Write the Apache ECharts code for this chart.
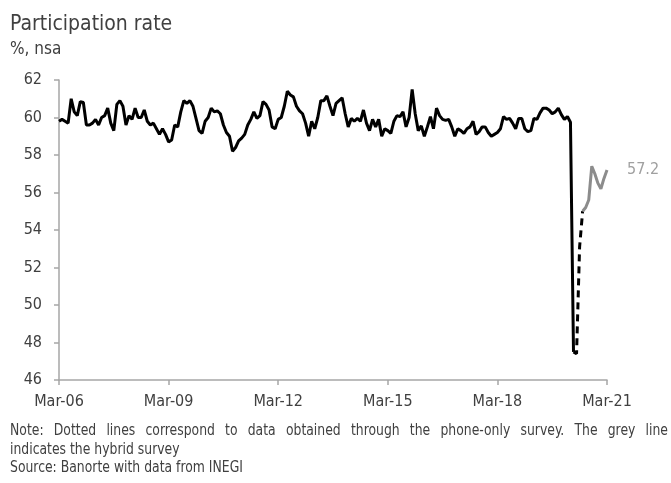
<!DOCTYPE html>
<head>
    <meta charset="utf-8">
    <title>Participation rate</title>
    <style>
        html, body { margin: 0; padding: 0; background: #fff; }
        #main { width: 671px; height: 483px; }
    </style>
</head>
<body>
<div id="main"></div>
<script src="https://cdn.jsdelivr.net/npm/echarts@6/dist/echarts.min.js"></script>
<script type="text/javascript">
// monthly, Mar-06 .. Apr-20 (traditional survey)
var participation = [
    59.8, 59.9, 59.8, 59.7, 61.0, 60.3, 60.1, 60.85, 60.8, 59.6, 59.6, 59.7,
    59.9, 59.6, 60.0, 60.1, 60.5, 59.7, 59.3, 60.7, 60.9, 60.6, 59.6, 60.1,
    59.9, 60.5, 60.0, 60.0, 60.4, 59.8, 59.6, 59.7, 59.4, 59.1, 59.4, 59.1,
    58.7, 58.8, 59.6, 59.5, 60.3, 60.9, 60.75, 60.9, 60.6, 59.95, 59.3, 59.15,
    59.8, 60.0, 60.5, 60.3, 60.35, 60.2, 59.6, 59.2, 59.0, 58.2, 58.4, 58.75,
    58.9, 59.1, 59.6, 59.9, 60.3, 59.95, 60.1, 60.85, 60.7, 60.4, 59.5, 59.4,
    59.9, 60.0, 60.6, 61.4, 61.2, 61.1, 60.6, 60.35, 60.2, 59.7, 59.0, 59.8,
    59.4, 60.0, 60.9, 60.9, 61.15, 60.6, 60.1, 60.75, 60.9, 61.05, 60.2, 59.5,
    59.95, 59.8, 59.95, 59.8, 60.4, 59.7, 59.3, 59.9, 59.5, 59.9, 59.0, 59.4,
    59.3, 59.15, 59.8, 60.1, 60.05, 60.3, 59.5, 60.0, 61.5, 60.2, 59.3, 59.55,
    59.0, 59.5, 60.05, 59.4, 60.5, 60.1, 59.9, 59.85, 59.9, 59.5, 59.0, 59.4,
    59.3, 59.15, 59.4, 59.5, 59.8, 59.1, 59.25, 59.5, 59.5, 59.2, 59.0, 59.1,
    59.2, 59.4, 60.05, 59.9, 59.95, 59.7, 59.4, 59.95, 59.95, 59.4, 59.25, 59.3,
    59.95, 59.9, 60.25, 60.5, 60.5, 60.4, 60.2, 60.3, 60.5, 60.15, 59.9, 60.05,
    59.75, 47.5
];
// Apr-20 .. Jul-20 (phone-only survey)
var phoneSurvey = [47.5, 47.4, 53.1, 55.0];
// Jul-20 .. Mar-21 (hybrid survey)
var hybridSurvey = [55.0, 55.2, 55.6, 57.4, 57.0, 56.5, 56.2, 56.75, 57.2];

var tickLabels = ['Mar-06', 'Mar-09', 'Mar-12', 'Mar-15', 'Mar-18', 'Mar-21'];
var yTicks = [46, 48, 50, 52, 54, 56, 58, 60, 62];

var FONT = "'Liberation Sans Narrow', 'DejaVu Sans Condensed', 'Roboto', sans-serif";

// month labels Mar-06 .. Mar-21
var monthNames = ['Jan','Feb','Mar','Apr','May','Jun','Jul','Aug','Sep','Oct','Nov','Dec'];
var months = [];
for (var i = 0; i <= 180; i++) {
    var m = (2 + i) % 12;
    var y = 2006 + Math.floor((2 + i) / 12);
    months.push(monthNames[m] + '-' + String(y).slice(2));
}

var n = months.length;
var phoneStart = participation.length - 1;
var hybridStart = phoneStart + phoneSurvey.length - 1;
function pad(arr, start) {
    var out = [];
    for (var i = 0; i < n; i++) {
        out.push(i >= start && i < start + arr.length ? arr[i - start] : null);
    }
    return out;
}

var textColor = '#404040';
var NOTE_SIZE = 15, NOTE_SX = 0.92;

// squeezed text, the original uses a narrow face
function txt(s, x, y, size, sx) {
    return { type: 'text', x: x, y: y, scaleX: sx || 1,
        style: { text: s, fill: textColor, font: size + 'px ' + FONT, verticalAlign: 'top' } };
}

// justified first note line, like the original
var ctx = document.createElement('canvas').getContext('2d');
function justify(text, x0, x1, y) {
    ctx.font = NOTE_SIZE + 'px ' + FONT;
    var words = text.split(' ');
    var widths = words.map(function (w) { return ctx.measureText(w).width * NOTE_SX; });
    var total = widths.reduce(function (a, b) { return a + b; }, 0);
    var gap = (x1 - x0 - total) / (words.length - 1);
    var x = x0, els = [];
    words.forEach(function (w, i) {
        els.push(txt(w, x, y, NOTE_SIZE, NOTE_SX));
        x += widths[i] + gap;
    });
    return els;
}

var myChart = echarts.init(document.getElementById('main'));

var graphics = [
    txt('Participation rate', 10, 14, 21),
    txt('%, nsa', 10, 41, 17),
    txt('indicates the hybrid survey', 10, 443, NOTE_SIZE, NOTE_SX),
    txt('Source: Banorte with data from INEGI', 10, 461, NOTE_SIZE, NOTE_SX)
].concat(justify('Note: Dotted lines correspond to data obtained through the phone-only survey. The grey line', 10, 668, 424));

var option = {
    animation: false,
    grid: { left: 59, right: 64, top: 80, bottom: 103, containLabel: false },
    graphic: graphics,
    xAxis: {
        type: 'category',
        data: months,
        boundaryGap: false,
        axisLine: { lineStyle: { color: '#a6a6a6', width: 1.5 } },
        axisTick: {
            length: 5,
            lineStyle: { color: '#a6a6a6', width: 1.5 },
            interval: function (idx, val) { return tickLabels.indexOf(val) >= 0; }
        },
        axisLabel: {
            interval: function (idx, val) { return tickLabels.indexOf(val) >= 0; },
            color: textColor, fontSize: 16, fontFamily: FONT, margin: 14
        },
        splitLine: { show: false }
    },
    yAxis: {
        type: 'value',
        min: yTicks[0],
        max: yTicks[yTicks.length - 1],
        interval: 2,
        axisLine: { show: true, lineStyle: { color: '#a6a6a6', width: 1.5 } },
        axisTick: { show: true, length: 5, lineStyle: { color: '#a6a6a6', width: 1.5 } },
        axisLabel: { color: textColor, fontSize: 16, fontFamily: FONT, margin: 17 },
        splitLine: { show: false }
    },
    series: [
        {
            name: 'Traditional', type: 'line', data: pad(participation, 0),
            showSymbol: false, symbol: 'none',
            lineStyle: { color: '#000', width: 3 }
        },
        {
            name: 'Phone-only', type: 'line', data: pad(phoneSurvey, phoneStart),
            showSymbol: false, symbol: 'none',
            lineStyle: { color: '#000', width: 3, type: [7, 5] }
        },
        {
            name: 'Hybrid', type: 'line', data: pad(hybridSurvey, hybridStart),
            showSymbol: false, symbol: 'none',
            lineStyle: { color: '#8c8c8c', width: 3 },
            endLabel: {
                show: true, distance: 20, color: '#a0a0a0', fontSize: 16, fontFamily: FONT,
                formatter: function (p) { return p.value; }
            }
        }
    ]
};
myChart.setOption(option);
</script>
</body>
